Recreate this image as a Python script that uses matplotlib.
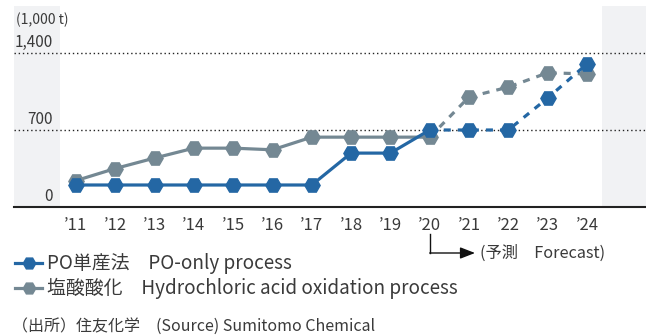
import matplotlib
matplotlib.use("Agg")
import matplotlib.pyplot as plt
import matplotlib.transforms as mtransforms
from matplotlib.lines import Line2D

plt.rcParams["font.family"] = ["Noto Sans CJK JP", "DejaVu Sans"]

years = ["’11", "’12", "’13", "’14", "’15", "’16", "’17",
         "’18", "’19", "’20", "’21", "’22", "’23", "’24"]
po_only = [200, 200, 200, 200, 200, 200, 200, 490, 490, 700, 700, 700, 990, 1300]
hcl_oxidation = [240, 350, 445, 535, 535, 520, 635, 635, 635, 635, 1000, 1090, 1220, 1210]
forecast_start = 9  # index of '20, dashed from here on

y_ticks = [0, 700, 1400]
y_tick_labels = ["0", "700", "1,400"]

BLUE = "#2467a4"
GRAY = "#748893"
BAND = "#f1f2f4"
TEXT = "#3a3a3a"

fig = plt.figure(figsize=(6.46, 3.36), dpi=100)
ax = fig.add_axes([14 / 646, (336 - 207) / 336, 632 / 646, 201 / 336])

x = list(range(len(years)))
x0, dx = 76, 39.3
ax.set_xlim((14 - x0) / dx, (646 - x0) / dx)
ax.set_ylim(0, 201 / 77 * 700)

# shaded side bands
ax.axvspan(ax.get_xlim()[0], (60 - x0) / dx, color=BAND, zorder=0, lw=0)
ax.axvspan((602 - x0) / dx, ax.get_xlim()[1], color=BAND, zorder=0, lw=0)

for v in y_ticks[1:]:
    ax.axhline(v, color="#222222", lw=1.0, ls=(0, (1, 2)), zorder=1)

for s in ["top", "right", "left"]:
    ax.spines[s].set_visible(False)
ax.spines["bottom"].set_linewidth(1.5)
ax.spines["bottom"].set_color("#222222")
ax.set_yticks([])
ax.set_xticks(x)
ax.set_xticklabels(years, fontsize=12, color=TEXT)
ax.tick_params(axis="x", length=0, pad=7)

lab_x = (53 - x0) / dx
for v, lab in zip(y_ticks, y_tick_labels):
    ax.annotate(lab, xy=(lab_x, v), xytext=(0, 1.5), textcoords="offset points",
                ha="right", va="bottom", fontsize=11, color=TEXT)
ax.text((16 - x0) / dx, (207 - 20) / 77 * 700, "(1,000 t)", ha="left", va="center",
        fontsize=10, color=TEXT)

fs = forecast_start
for vals, col, z in [(hcl_oxidation, GRAY, 2), (po_only, BLUE, 4)]:
    ax.plot(x[:fs + 1], vals[:fs + 1], color=col, lw=2.3, zorder=z, solid_capstyle="butt")
    ax.plot(x[fs:], vals[fs:], color=col, lw=2.3, ls=(0, (2.2, 2.2)), zorder=z)
    ax.plot(x, vals, ls="none", marker="H", markersize=11, color=col,
            markeredgecolor=col, zorder=z + 1)

# forecast arrow under the '20 label
bt = mtransforms.blended_transform_factory(ax.transData, fig.transFigure)
y_top = (336 - 234) / 336
y_arr = (336 - 253) / 336
ax.add_line(Line2D([fs, fs], [y_top, y_arr], transform=bt, color="#111111", lw=1.0,
                   clip_on=False))
ax.annotate("", xy=((475 - x0) / dx, y_arr), xycoords=bt,
            xytext=(fs, y_arr), textcoords=bt,
            arrowprops=dict(arrowstyle="-|>,head_length=0.9,head_width=0.35",
                            color="#111111", lw=1.0, shrinkA=0, shrinkB=0))
ax.text((480 - x0) / dx, y_arr, "(予測　Forecast)", transform=bt, ha="left",
        va="center", fontsize=11.7, color=TEXT)

# legend rows
for yy, col, lab in [(263, BLUE, "PO単産法　PO-only process"),
                     (288, GRAY, "塩酸酸化　Hydrochloric acid oxidation process")]:
    fy = (336 - yy) / 336
    fig.add_artist(Line2D([15 / 646, 28.5 / 646, 42 / 646], [fy, fy, fy], color=col,
                          lw=2.3, marker="H", markersize=9, markevery=[1],
                          markeredgecolor=col))
    fig.text(47 / 646, fy, lab, ha="left", va="center", fontsize=13.6, color=TEXT)

fig.text(12 / 646, (336 - 326) / 336, "（出所）住友化学　(Source) Sumitomo Chemical",
         ha="left", va="center", fontsize=11.5, color=TEXT)

fig.savefig("out.png", dpi=100)
